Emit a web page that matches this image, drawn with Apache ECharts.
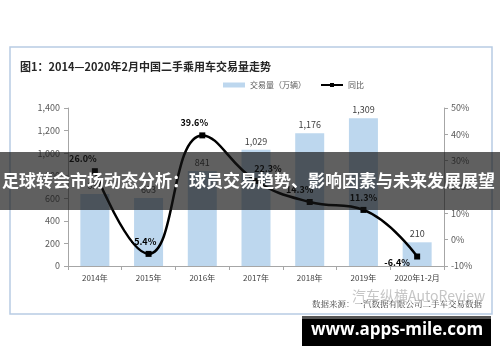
<!DOCTYPE html>
<html><head><meta charset="utf-8">
<script src="https://cdn.jsdelivr.net/npm/echarts@6/dist/echarts.min.js"></script>
<style>html,body{margin:0;padding:0;background:#fff}#c{width:500px;height:362px}</style>
</head><body><div id="c"></div>
<script>
var categories = ['2014年','2015年','2016年','2017年','2018年','2019年','2020年1-2月'];
var volumes = [637, 603, 841, 1029, 1176, 1309, 210];
var yoy = [26.0, -5.4, 39.6, 22.3, 14.3, 11.3, -6.4];
var leftTicks = {min: 0, max: 1400, interval: 200};
var rightTicks = {min: -10, max: 50, interval: 10};
var titleText = '图1：2014—2020年2月中国二手乘用车交易量走势';
var bannerText = '足球转会市场动态分析：球员交易趋势、影响因素与未来发展展望';
var sourceText = '数据来源：一汽数据有限公司二手车交易数据';
var watermarkText = '汽车纵横AutoReview';
var siteText = 'www.apps-mile.com';

var FONT = '"Noto Sans CJK SC", "Noto Sans", sans-serif';
var lblPos = [
  {position:'top', offset:[-12,0]},
  {position:'top', offset:[-5,0]},
  {position:'top', offset:[-8,0]},
  {position:'top', offset:[12,0]},
  {position:'top', offset:[-10,0]},
  {position:'top', offset:[0,0]},
  {position:'bottom', offset:[-20,-6]}
];
var lineData = yoy.map(function(v,i){ return {value:v, label: lblPos[i]}; });
function comma(n){ return String(n).replace(/\B(?=(\d{3})+(?!\d))/g, ','); }

var chart = echarts.init(document.getElementById('c'), null, {renderer:'canvas'});
chart.setOption({
  animation:false,
  textStyle:{fontFamily:FONT},
  title:{text:titleText, left:15, top:56, textStyle:{fontSize:11, fontWeight:'bold', color:'#262626', fontFamily:FONT}},
  legend:{
    top:76, left:218, itemGap:14, itemWidth:22, itemHeight:5,
    textStyle:{fontSize:8, color:'#595959', fontFamily:FONT},
    data:[{name:'交易量（万辆）', icon:'rect'}, {name:'同比'}]
  },
  grid:{left:68, right:56, top:108, bottom:96},
  xAxis:{
    type:'category', data:categories,
    axisLine:{lineStyle:{color:'#a6a6a6', width:1}},
    axisTick:{show:true, length:4, lineStyle:{color:'#a6a6a6'}},
    axisLabel:{fontSize:8, color:'#404040', margin:8, interval:0, fontFamily:FONT}
  },
  yAxis:[
    {type:'value', min:leftTicks.min, max:leftTicks.max, interval:leftTicks.interval,
     axisLine:{show:true, lineStyle:{color:'#a6a6a6'}},
     axisTick:{show:true, length:4, lineStyle:{color:'#a6a6a6'}},
     splitLine:{show:false},
     axisLabel:{fontSize:9, color:'#595959', margin:8, formatter:function(v){return comma(v);}, fontFamily:FONT}},
    {type:'value', min:rightTicks.min, max:rightTicks.max, interval:rightTicks.interval,
     axisLine:{show:true, lineStyle:{color:'#a6a6a6'}},
     axisTick:{show:true, length:4, lineStyle:{color:'#a6a6a6'}},
     splitLine:{show:false},
     axisLabel:{fontSize:9, color:'#595959', margin:7, formatter:'{value}%', fontFamily:FONT}}
  ],
  series:[
    {name:'交易量（万辆）', type:'bar', data:volumes, barWidth:29, yAxisIndex:0,
     itemStyle:{color:'#bdd7ee'},
     label:{show:true, position:'top', distance:4, fontSize:9, color:'#404040', fontFamily:FONT,
            formatter:function(p){return comma(p.value);}}},
    {name:'同比', type:'line', data:lineData, yAxisIndex:1, smooth:0.45,
     symbol:'rect', symbolSize:6,
     lineStyle:{color:'#000', width:2.5}, itemStyle:{color:'#000'},
     label:{show:true, fontSize:9, fontWeight:'bold', color:'#000', distance:5, fontFamily:FONT,
            formatter:function(p){return p.value.toFixed(1)+'%';}}}
  ],
  graphic:[
    {type:'rect', z:-10, silent:true, shape:{x:10, y:47, width:482, height:267},
     style:{fill:'#fff', stroke:'#b8cce4', lineWidth:1.5}},
    {type:'text', z:100, left:312, top:300, style:{text:sourceText, fontSize:8.5, fill:'#404040', fontFamily:'"Noto Serif CJK SC", "Noto Sans CJK SC", serif'}},
    {type:'text', z:101, left:352, top:289, style:{text:watermarkText, fontSize:14, fill:'rgba(150,150,150,0.55)', fontFamily:FONT}},
    {type:'rect', z:200, silent:true, shape:{x:0, y:152, width:500, height:58}, style:{fill:'rgba(20,20,20,0.68)'}},
    {type:'text', z:201, left:2, top:172, style:{text:bannerText, fontSize:17, fontWeight:'bold', fill:'#fff', fontFamily:FONT}},
    {type:'rect', z:200, silent:true, shape:{x:302, y:316, width:189, height:30}, style:{fill:'#000'}},
    {type:'rect', z:201, silent:true, shape:{x:302, y:316, width:189, height:3}, style:{fill:'#555'}},
    {type:'text', z:202, left:311, top:322, style:{text:siteText, fontSize:17, fontWeight:'bold', fill:'#fff', fontFamily:'"Open Sans", "DejaVu Sans", sans-serif'}}
  ]
});
</script></body></html>
